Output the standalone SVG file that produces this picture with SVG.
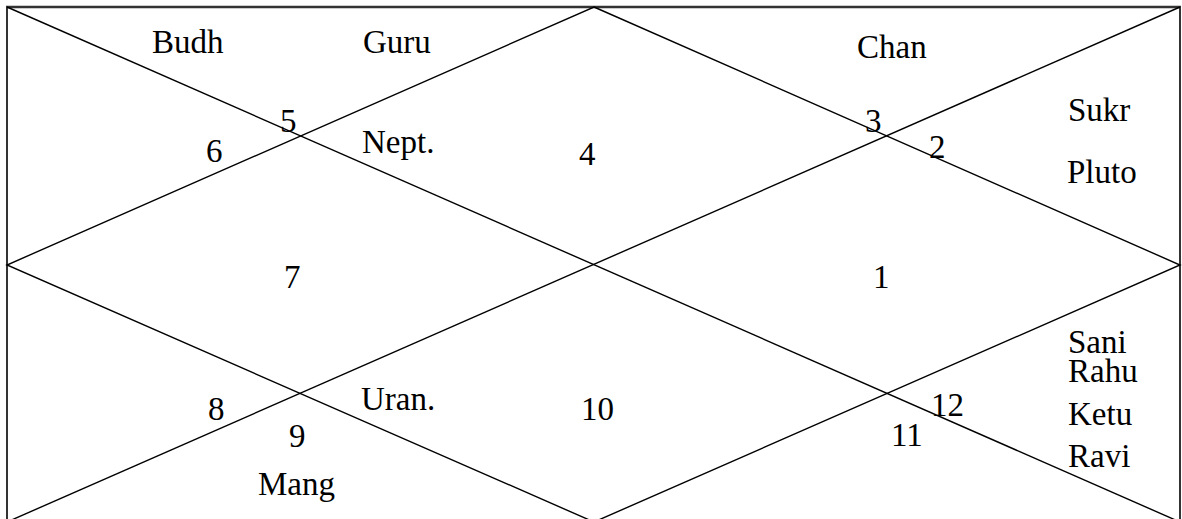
<svg xmlns="http://www.w3.org/2000/svg" width="1182" height="519" viewBox="0 0 1182 519">
<style>
.ln{stroke:#000;stroke-width:1.4;fill:none}
.bd{stroke:#000;stroke-width:1.6;fill:none}
.tp{stroke:#333;stroke-width:2.4;fill:none}
text{font-family:"Liberation Serif","Times New Roman",serif;font-size:33px;fill:#000}
</style>
<rect width="1182" height="519" fill="#fff"/>
<g id="connectors">
<line class="bd" x1="7" y1="7" x2="7" y2="519"/>
<line class="bd" x1="1180" y1="7" x2="1180" y2="519"/>
<line class="tp" x1="6" y1="7" x2="1181" y2="7"/>
<line class="ln" x1="7" y1="7" x2="1180" y2="522"/>
<line class="ln" x1="7" y1="522" x2="1180" y2="7"/>
<polygon class="ln" points="594,7 1180,265 594,522 7,265"/>
</g>
<g id="house1"><text x="873" y="288">1</text></g>
<g id="house2"><text x="929" y="158">2</text><text x="1068" y="121">Sukr</text><text x="1067" y="183">Pluto</text></g>
<g id="house3"><text x="865" y="132">3</text><text x="857" y="58">Chan</text></g>
<g id="house4"><text x="579" y="165">4</text></g>
<g id="house5"><text x="280" y="132">5</text><text x="363" y="53">Guru</text><text x="362" y="153">Nept.</text></g>
<g id="house6"><text x="206" y="162">6</text><text x="152" y="53">Budh</text></g>
<g id="house7"><text x="284" y="288">7</text></g>
<g id="house8"><text x="208" y="420">8</text></g>
<g id="house9"><text x="289" y="447">9</text><text x="258" y="495">Mang</text></g>
<g id="house10"><text x="581" y="420">10</text><text x="361" y="410">Uran.</text></g>
<g id="house11"><text x="891" y="446">11</text></g>
<g id="house12"><text x="931" y="416">12</text><text x="1068" y="353">Sani</text><text x="1068" y="382">Rahu</text><text x="1068" y="425">Ketu</text><text x="1068" y="467">Ravi</text></g>
</svg>
